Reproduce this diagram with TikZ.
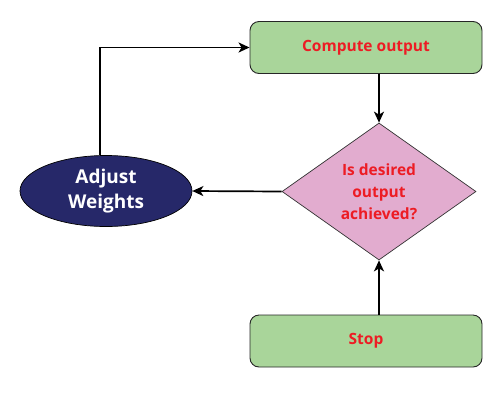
\documentclass[tikz,border=0pt]{standalone}
\usepackage{fontspec}
\setmainfont{Open Sans}
\usetikzlibrary{shapes.geometric,arrows.meta}
\definecolor{boxgreen}{HTML}{A9D59A}
\definecolor{diapink}{HTML}{E2ACCF}
\definecolor{navy}{HTML}{262869}
\definecolor{txtred}{HTML}{ED1C24}
\begin{document}
\begin{tikzpicture}[x=1pt,y=-1pt,
  procbox/.style={draw=black!85,line width=0.9pt,fill=boxgreen,rounded corners=9pt,
    minimum width=232pt,minimum height=52pt,inner sep=0pt,
    font=\bfseries\fontsize{15.5}{18}\selectfont,text=txtred},
  decision/.style={draw=black!80,line width=0.7pt,fill=diapink,diamond,
    minimum width=194pt,minimum height=137pt,inner sep=0pt,aspect=1.4,
    font=\bfseries\fontsize{15.5}{22}\selectfont,text=txtred,align=center},
  adjust/.style={draw=black,line width=0.7pt,fill=navy,ellipse,
    minimum width=172pt,minimum height=71pt,inner sep=0pt,
    font=\bfseries\fontsize{19}{25}\selectfont,text=white,align=center},
  conn/.style={line width=1.7pt,-{Stealth[length=11pt,width=10pt,inset=3pt]}}]
\useasboundingbox (0,0) rectangle (500,400);
\node[procbox] (compute) at (366,47.5) {Compute output};
\node[decision] (dec) at (379,191.5) {Is desired\\output\\achieved?};
\node[procbox] (stop) at (366,341) {Stop};
\node[adjust] (adj) at (106,191) {Adjust\\Weights};
\draw[conn] (compute.south -| dec.north) -- (dec.north);
\draw[conn] (stop.north -| dec.south) -- (dec.south);
\draw[conn] (dec.west) -- (adj.east);
\draw[conn] (adj.north -| 100,0) |- (compute.west);
\end{tikzpicture}
\end{document}
